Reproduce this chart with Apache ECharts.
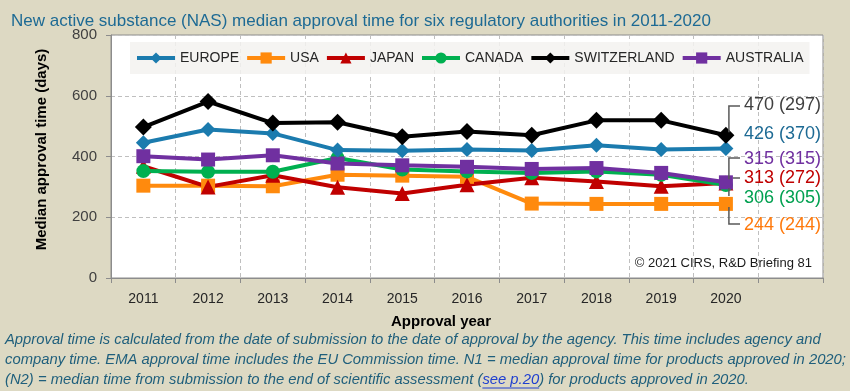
<!DOCTYPE html>
<html><head><meta charset="utf-8">
<script src="https://cdn.jsdelivr.net/npm/echarts@6/dist/echarts.min.js"></script>
<style>html,body{margin:0;padding:0;background:#ddd9c3}#c{width:850px;height:391px}</style>
</head><body><div id="c"></div>
<script>
// ---- data ----
const years = ['2011','2012','2013','2014','2015','2016','2017','2018','2019','2020',''];
const europe      = [445, 489, 476, 421, 419, 423, 420, 437, 423, 426];
const usa         = [304, 304, 302, 340, 337, 333, 245, 244, 244, 244];
const japan       = [368, 300, 338, 299, 278, 307, 330, 318, 302, 313];
const canada      = [352, 350, 350, 395, 357, 351, 346, 351, 340, 306];
const switzerland = [497, 581, 510, 513, 465, 482, 470, 519, 519, 470];
const australia   = [401, 390, 404, 377, 371, 366, 359, 362, 346, 315];
// (N2) values for 2020
const n2Europe = 370, n2Usa = 244, n2Japan = 272, n2Canada = 305, n2Switzerland = 297, n2Australia = 315;
const yTicks = [0, 200, 400, 600, 800];

const FONT = 'Liberation Sans';
const chart = echarts.init(document.getElementById('c'), null, {renderer: 'canvas'});

function mk(name, data, color, symbol, size) {
  return {
    name, type: 'line', data, symbol, symbolSize: size,
    lineStyle: {color, width: 4}, itemStyle: {color},
    emphasis: {disabled: true}, animation: false
  };
}

const option = {
  backgroundColor: '#ddd9c3',
  animation: false,
  textStyle: {fontFamily: FONT},
  title: {
    text: 'New active substance (NAS) median approval time for six regulatory authorities in 2011-2020',
    left: 6, top: 8,
    textStyle: {color: '#1d6a94', fontSize: 17, fontWeight: 'normal', fontFamily: FONT}
  },
  grid: {left: 111, right: 27, top: 35, bottom: 113, show: true, backgroundColor: '#ffffff', borderColor: '#8c8c8c', borderWidth: 1},
  legend: {
    data: ['EUROPE', 'USA', 'JAPAN', 'CANADA', 'SWITZERLAND', 'AUSTRALIA'],
    left: 130, top: 42, padding: [9, 6, 9, 5], itemGap: 6, itemWidth: 38, itemHeight: 14,
    backgroundColor: 'rgba(243,242,240,0.85)',
    lineStyle: {width: 4},
    textStyle: {color: '#262626', fontSize: 14, fontFamily: FONT},
    selectedMode: false
  },
  xAxis: {
    type: 'category', data: years, boundaryGap: true,
    axisLine: {lineStyle: {color: '#8c8c8c', width: 1}},
    axisTick: {show: true, alignWithLabel: false, length: 5, lineStyle: {color: '#8c8c8c'}},
    axisLabel: {color: '#262626', fontSize: 14, margin: 14, interval: 0},
    splitLine: {show: true, interval: 0, lineStyle: {color: '#bfbfbf', type: [4, 3]}},
    name: 'Approval year', nameLocation: 'middle', nameGap: 36,
    nameTextStyle: {color: '#000', fontSize: 15, fontWeight: 'bold', padding: [0, 52, 0, 0]}
  },
  yAxis: {
    type: 'value', min: 0, max: 800, interval: 200,
    axisLine: {show: true, lineStyle: {color: '#8c8c8c', width: 1}},
    axisTick: {show: true, length: 5, lineStyle: {color: '#8c8c8c'}},
    axisLabel: {color: '#404040', fontSize: 15, margin: 14, formatter: v => yTicks.includes(v) ? String(v) : ''},
    splitLine: {show: true, lineStyle: {color: '#bfbfbf', type: [4, 3]}},
    name: 'Median approval time (days)', nameLocation: 'middle', nameGap: 62, nameRotate: 90,
    nameTextStyle: {color: '#000', fontSize: 15, fontWeight: 'bold', padding: [0, 0, 0, 14]}
  },
  series: [
    mk('USA', usa, '#ff8a0d', 'rect', 14),
    mk('JAPAN', japan, '#c00000', 'triangle', 15),
    mk('CANADA', canada, '#00b050', 'circle', 14),
    mk('AUSTRALIA', australia, '#7030a0', 'rect', 14),
    mk('EUROPE', europe, '#1b7bae', 'diamond', 15),
    mk('SWITZERLAND', switzerland, '#000000', 'diamond', 17)
  ]
};
chart.setOption(option);

// ---- end annotations (label layout: y of label, y where connector ends) ----
const annotations = [
  {vals: switzerland, n2: n2Switzerland, color: '#404040', labelY: 106, lineEnd: 106, hook: true},
  {vals: europe,      n2: n2Europe,      color: '#1d6a94', labelY: 135, lineEnd: null},
  {vals: australia,   n2: n2Australia,   color: '#7030a0', labelY: 160, lineEnd: 158, hook: true},
  {vals: japan,       n2: n2Japan,       color: '#c00000', labelY: 179, lineEnd: 'flat'},
  {vals: canada,      n2: n2Canada,      color: '#00a050', labelY: 199, lineEnd: 196, hook: false},
  {vals: usa,         n2: n2Usa,         color: '#ff7a0d', labelY: 226, lineEnd: 224, hook: true}
];
const labelX = 744;
const graphics = [];
annotations.forEach(a => {
  const last = a.vals.length - 1;
  const p = chart.convertToPixel({gridIndex: 0}, [last, a.vals[last]]);
  graphics.push({
    type: 'text', left: labelX, top: a.labelY - 10, z: 10,
    style: {text: a.vals[last] + ' (' + a.n2 + ')', fill: a.color, font: '18px "' + FONT + '"'}
  });
  const bx = p[0] + 3;
  let pts = null;
  if (a.lineEnd === 'flat') {
    pts = [[bx + 4, a.labelY - 1], [labelX - 4, a.labelY - 1]];
  } else if (a.lineEnd !== null) {
    const y0 = a.lineEnd < p[1] ? p[1] - 3 : p[1] + 3;
    pts = [[bx, y0], [bx, a.lineEnd]];
    if (a.hook) pts.push([labelX - 4, a.lineEnd]);
  }
  if (pts) graphics.push({type: 'polyline', z: 9, shape: {points: pts}, style: {stroke: '#595959', lineWidth: 1.5, fill: null}});
});

graphics.push({
  type: 'text', right: 38, top: 257, z: 10,
  style: {text: '\u00a9 2021 CIRS, R&D Briefing 81', fill: '#1a1a1a', font: '13px "' + FONT + '"'}
});

// ---- footnote ----
const fnFont = 'italic 14.8px "' + FONT + '"';
const fnColor = '#1f5f7c';
const line1 = 'Approval time is calculated from the date of submission to the date of approval by the agency. This time includes agency and';
const line2 = 'company time. EMA approval time includes the EU Commission time. N1 = median approval time for products approved in 2020;';
const line3a = '(N2) = median time from submission to the end of scientific assessment (';
const link = 'see p.20';
const line3b = ') for products approved in 2020.';
[line1, line2].forEach((t, i) => {
  graphics.push({type: 'text', left: 5, top: 332 + i * 20, style: {text: t, fill: fnColor, font: fnFont}});
});
const ctx = document.createElement('canvas').getContext('2d');
ctx.font = fnFont;
const w1 = ctx.measureText(line3a).width;
const w2 = ctx.measureText(link).width;
graphics.push({type: 'text', left: 5, top: 372, style: {text: line3a, fill: fnColor, font: fnFont}});
graphics.push({type: 'text', left: 5 + w1, top: 372, style: {text: link, fill: '#1f3fd0', font: fnFont}});
graphics.push({type: 'text', left: 5 + w1 + w2, top: 372, style: {text: line3b, fill: fnColor, font: fnFont}});
graphics.push({type: 'line', shape: {x1: 5 + w1, y1: 388, x2: 5 + w1 + w2, y2: 388}, style: {stroke: '#1f3fd0', lineWidth: 1}});

chart.setOption({graphic: graphics});
</script>
</body></html>
